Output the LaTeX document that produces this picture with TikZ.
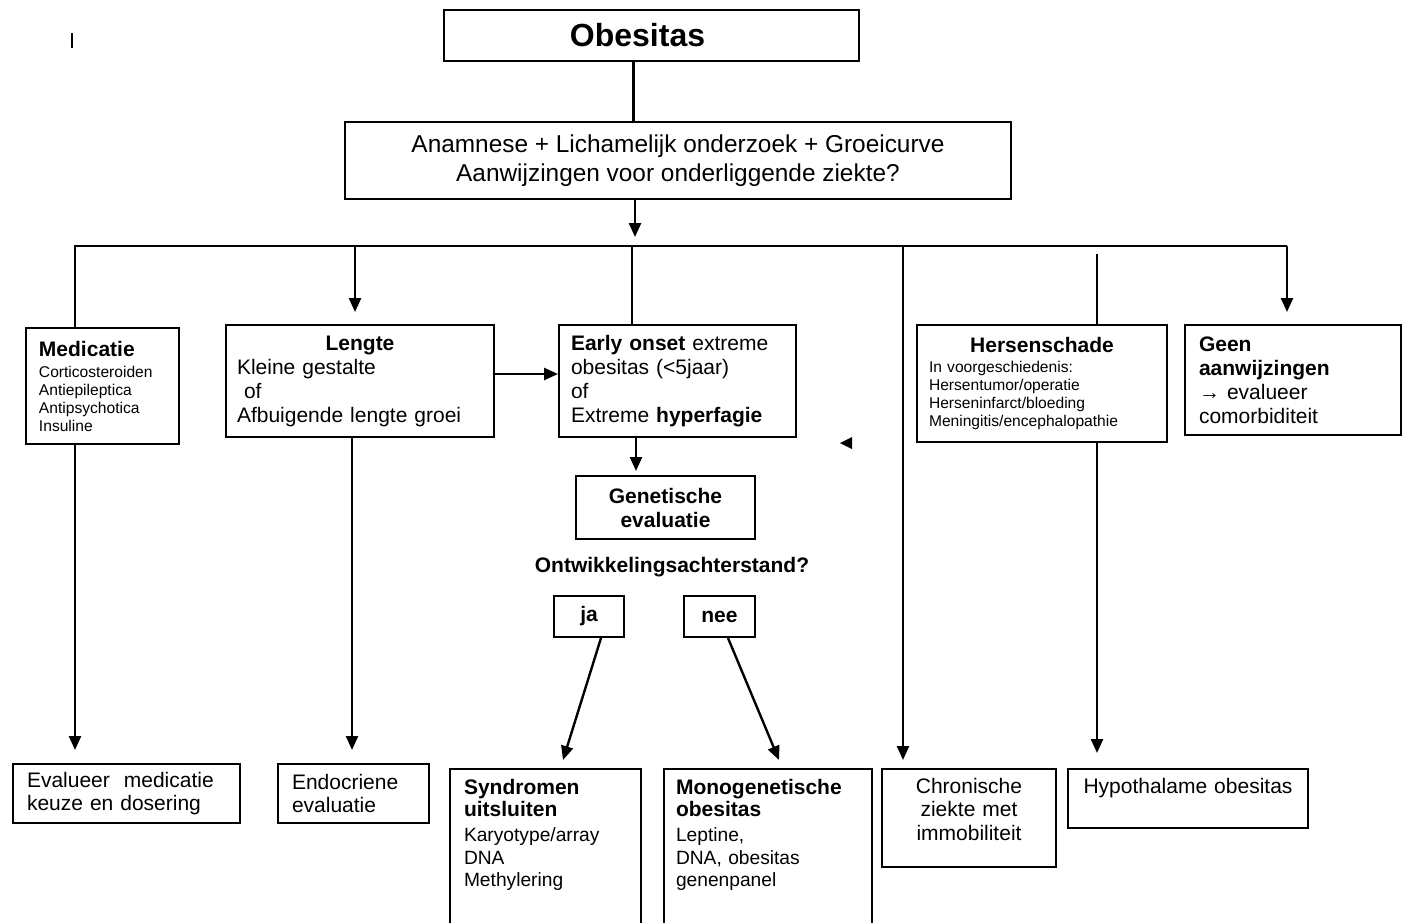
\documentclass[tikz,border=0pt]{standalone}
\usepackage{fontspec}
\setmainfont{Liberation Sans}
\usetikzlibrary{arrows.meta}
\newcommand{\fbig}{\fontsize{10.5}{12}\selectfont}
\newcommand{\fsmall}{\fontsize{7.8}{9}\selectfont}
\newcommand{\fmid}{\fontsize{9.6}{11.25}\selectfont}

\begin{document}
\begin{tikzpicture}[x=0.5pt,y=-0.5pt,
      box/.style={draw,line width=1pt,anchor=north west,inner sep=0pt,font=\fbig},
      link/.style={line width=1.3pt},
      arr/.style={-{Triangle[length=7pt,width=6pt]},line width=1.2pt}]
    \useasboundingbox (0,0) rectangle (1402,922);

    % ---- top: Obesitas + anamnese ---------------------------------------
    \node[box,minimum width=207.5pt,minimum height=25.5pt,
          font=\fontsize{16}{19}\selectfont\bfseries] (obes) at (443,9) {Obesitas\kern14pt};
    \node[box,minimum width=333pt,minimum height=38.5pt,align=center,
          font=\fontsize{12.2}{14.5}\selectfont] (anam) at (344,121)
          {Anamnese + Lichamelijk onderzoek + Groeicurve\\Aanwijzingen voor onderliggende ziekte?};
    \draw[link] ([xshift=-9pt]obes.south) -- ([xshift=-9pt]obes.south |- anam.north);

    % ---- middle row: aanwijzingen ---------------------------------------
    \node[box,minimum width=76.5pt,minimum height=58pt,text width=63.5pt,inner xsep=6.5pt,
          align=left,font=\fsmall] (medi) at (25,327)
          {{\fbig\bfseries Medicatie}\\[1.5pt]Corticosteroiden\\Antiepileptica\\Antipsychotica\\Insuline};
    \node[box,minimum width=134pt,minimum height=56pt,text width=123pt,inner xsep=5.5pt,
          align=left] (leng) at (225,324)
          {\makebox[\linewidth]{\bfseries Lengte}\\Kleine gestalte\\\hspace*{3.5pt}of\\Afbuigende lengte groei};
    \node[box,minimum width=118.5pt,minimum height=56pt,text width=106.5pt,inner xsep=6pt,
          align=left] (eo) at (558,324)
          {\textbf{Early onset} extreme\\obesitas (<5jaar)\\of\\Extreme \textbf{hyperfagie}};
    \node[box,minimum width=125pt,minimum height=58.5pt,text width=113pt,inner xsep=6pt,
          align=left,font=\fsmall] (hers) at (916,324)
          {\makebox[\linewidth]{\fbig\bfseries Hersenschade}\\[1pt]In voorgeschiedenis:\\
           Hersentumor/operatie\\Herseninfarct/bloeding\\Meningitis/encephalopathie};
    \node[box,minimum width=108pt,minimum height=55pt,text width=94pt,inner xsep=7pt,
          align=left] (geen) at (1184,324)
          {\textbf{Geen}\\\textbf{aanwijzingen}\\→ evalueer\\comorbiditeit};

    % ---- bus from anamnese ----------------------------------------------
    \coordinate (busL) at (75,246);
    \coordinate (busR) at (1287,246);
    \coordinate (busin) at (635,237);
    \coordinate (b2) at (355,246);
    \coordinate (b3) at (632,246);
    \coordinate (b4) at (903,246);
    \coordinate (h0) at (1097,254);
    \draw[arr] (anam.south -| busin) -- (busin);
    \draw[link] (medi.north -| busL) -- (busL) -- (busR);
    \draw[arr] (busR) -- ([yshift=6pt]geen.north -| busR);
    \draw[arr] (b2) -- ([yshift=6pt]leng.north -| b2);
    \draw[link] (b3) -- (eo.north -| b3);
    \draw[link] (h0) -- (hers.north -| h0);
    \draw[arr] ([yshift=3.5pt]leng.east) -- ([yshift=3.5pt]leng.east -| eo.west);

    % ---- genetische evaluatie -------------------------------------------
    \node[box,minimum width=89.5pt,minimum height=31.5pt,align=center,
          font=\fbig\bfseries] (gen) at (575,475) {Genetische\\evaluatie};
    \node[font=\fbig\bfseries] (ontw) at (672,567) {Ontwikkelingsachterstand?};
    \node[box,minimum width=35pt,minimum height=20.5pt,font=\fbig\bfseries] (ja) at (553,595) {ja};
    \node[box,minimum width=35.5pt,minimum height=20.5pt,font=\fbig\bfseries] (nee) at (683,595) {nee};
    \coordinate (e0) at ([xshift=-20.75pt]eo.south);
    \draw[arr] (e0) -- ([yshift=2pt]gen.north -| e0);

    % ---- bottom row: uitkomsten -----------------------------------------
    \node[box,minimum width=113.5pt,minimum height=29.5pt,text width=99.5pt,inner xsep=7pt,
          align=left,font=\fontsize{10.5}{11.5}\selectfont] (eval) at (12,763)
          {Evalueer\ \ medicatie\\keuze en dosering};
    \node[box,minimum width=75.5pt,minimum height=29.5pt,text width=61.5pt,inner xsep=7pt,
          align=left,font=\fontsize{10.5}{11.5}\selectfont] (endo) at (277,763)
          {Endocriene\\evaluatie};
    \node[box,text width=81.5pt,inner xsep=7pt,inner ysep=5pt,align=left,font=\fmid] (synd) at (449,768)
          {{\fbig\bfseries Syndromen}\\{\fbig\bfseries uitsluiten}\\[1.25pt]Karyotype/array\\DNA\\
           Methylering\rule[-60pt]{0pt}{60pt}};
    \node[box,text width=92pt,inner xsep=6pt,inner ysep=5pt,align=left,font=\fmid] (mono) at (663,768)
          {{\fbig\bfseries Monogenetische}\\{\fbig\bfseries obesitas}\\[1.25pt]Leptine,\\DNA, obesitas\\
           genenpanel\rule[-60pt]{0pt}{60pt}};
    \node[box,text width=75pt,inner xsep=6pt,inner ysep=4.5pt,align=center,
          font=\fontsize{10.5}{11.75}\selectfont] (chron) at (881,768)
          {Chronische\\ziekte met\\immobiliteit\rule[-9pt]{0pt}{9pt}};
    \node[box,text width=108pt,inner xsep=6pt,inner ysep=4.5pt,align=center] (hypo) at (1067,768)
          {Hypothalame obesitas\rule[-13pt]{0pt}{13pt}};

    \coordinate (l0) at ([xshift=-4pt]leng.south);
    \draw[arr] (medi.south -| busL) -- ([yshift=6.5pt]eval.north -| busL);
    \draw[arr] (l0) -- ([yshift=6.5pt]endo.north -| l0);
    \draw[arr] ([xshift=6pt]ja.south) -- ([xshift=8.75pt,yshift=4pt]synd.north);
    \draw[arr] ([xshift=4.25pt]nee.south) -- ([xshift=5.5pt,yshift=4pt]mono.north);
    \draw[arr] (b4) -- ([yshift=4pt]chron.north -| b4);
    \draw[arr] (hers.south -| h0) -- ([yshift=7.5pt]hypo.north -| h0);

    % ---- loose marks ----------------------------------------------------
    \draw[line width=0.7pt] (72,33) -- (72,48);
    \fill (840,443) -- (852,437) -- (852,449) -- cycle;
  \end{tikzpicture}
\end{document}
